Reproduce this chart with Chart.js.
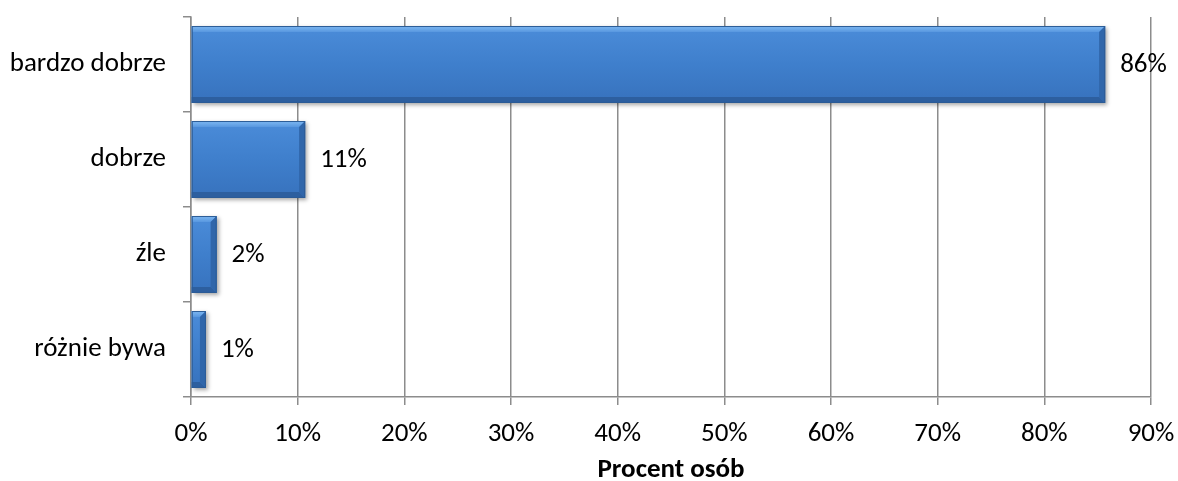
<!DOCTYPE html>
<html>
<head>
<meta charset="utf-8">
<script src="https://cdn.jsdelivr.net/npm/chart.js@4.4.1/dist/chart.umd.min.js"></script>
<style>
  html, body { margin: 0; padding: 0; background: #fff; }
  #wrap { width: 1178px; height: 481px; position: relative; }
</style>
</head>
<body>
<div id="wrap"><canvas id="c" width="1178" height="481"></canvas></div>
<script>
const categories = ['bardzo dobrze', 'dobrze', 'źle', 'różnie bywa'];
const values = [85.7, 10.7, 2.4, 1.4];
const valueLabels = ['86%', '11%', '2%', '1%'];
const xTicks = [0, 10, 20, 30, 40, 50, 60, 70, 80, 90];
const axisTitle = 'Procent osób';

const FONT = 'Carlito, Calibri, Lato, sans-serif';
const GRID = '#8c8c8c';
const FS = 27;

const bevelPlugin = {
  id: 'bevel',
  afterDatasetsDraw(chart) {
    const ctx = chart.ctx;
    const meta = chart.getDatasetMeta(0);
    meta.data.forEach((bar) => {
      const x0 = bar.base, x1 = bar.x;
      const y0 = bar.y - bar.height / 2, y1 = bar.y + bar.height / 2;
      const b = Math.min(6, (x1 - x0) / 2);
      ctx.save();
      const g = ctx.createLinearGradient(0, y0, 0, y1);
      g.addColorStop(0, '#4b8cd9');
      g.addColorStop(0.5, '#3f7fcc');
      g.addColorStop(1, '#3772bd');
      ctx.shadowColor = 'rgba(0,0,0,0.35)';
      ctx.shadowBlur = 4;
      ctx.shadowOffsetX = 2;
      ctx.shadowOffsetY = 2;
      ctx.fillStyle = g;
      ctx.fillRect(x0, y0, x1 - x0, y1 - y0);
      ctx.shadowColor = 'transparent';
      const gt = ctx.createLinearGradient(0, y0, 0, y0 + b);
      gt.addColorStop(0, '#7fbaf3');
      gt.addColorStop(1, '#5897df');
      ctx.fillStyle = gt;
      ctx.beginPath();
      ctx.moveTo(x0, y0); ctx.lineTo(x1, y0); ctx.lineTo(x1 - b, y0 + b); ctx.lineTo(x0, y0 + b);
      ctx.closePath(); ctx.fill();
      ctx.fillStyle = '#2d5f9f';
      ctx.beginPath();
      ctx.moveTo(x0, y1); ctx.lineTo(x1, y1); ctx.lineTo(x1 - b, y1 - b); ctx.lineTo(x0, y1 - b);
      ctx.closePath(); ctx.fill();
      ctx.fillStyle = '#3066aa';
      ctx.beginPath();
      ctx.moveTo(x1, y0); ctx.lineTo(x1, y1); ctx.lineTo(x1 - b, y1 - b); ctx.lineTo(x1 - b, y0 + b);
      ctx.closePath(); ctx.fill();
      ctx.strokeStyle = '#2c5c96';
      ctx.lineWidth = 1;
      ctx.strokeRect(x0 + 0.5, y0 + 0.5, x1 - x0 - 1, y1 - y0 - 1);
      ctx.restore();
    });
  }
};

const labelPlugin = {
  id: 'valueLabels',
  afterDatasetsDraw(chart) {
    const ctx = chart.ctx;
    const meta = chart.getDatasetMeta(0);
    ctx.save();
    ctx.font = FS + 'px ' + FONT;
    ctx.fillStyle = '#000';
    ctx.textAlign = 'left';
    ctx.textBaseline = 'middle';
    meta.data.forEach((bar, i) => {
      ctx.fillText(valueLabels[i], bar.x + 15, bar.y + 1);
    });
    ctx.restore();
  }
};

new Chart(document.getElementById('c'), {
  type: 'bar',
  data: {
    labels: categories,
    datasets: [{
      data: values,
      backgroundColor: '#3f7fcc',
      borderWidth: 0,
      barPercentage: 0.81,
      categoryPercentage: 1
    }]
  },
  options: {
    indexAxis: 'y',
    responsive: false,
    animation: false,
    events: [],
    layout: { padding: { left: 0, right: 27, top: 17, bottom: 0 } },
    plugins: { legend: { display: false }, tooltip: { enabled: false } },
    scales: {
      x: {
        type: 'linear',
        min: 0,
        max: 90,
        afterBuildTicks(scale) { scale.ticks = xTicks.map(v => ({ value: v })); },
        afterFit(scale) { scale.height = 84; scale.paddingLeft = 0; scale.paddingRight = 0; },
        ticks: {
          callback: (v) => v + '%',
          color: '#000',
          font: { family: FONT, size: FS },
          padding: 13,
          maxRotation: 0
        },
        grid: { color: GRID, lineWidth: 1.5, tickLength: 8, drawTicks: true },
        border: { color: GRID, width: 1.5 },
        title: {
          display: true,
          text: axisTitle,
          color: '#000',
          font: { family: FONT, size: 27, weight: 'bold', lineHeight: 0.8 },
          padding: { top: 0, bottom: 0 }
        }
      },
      y: {
        type: 'category',
        afterFit(scale) { scale.width = 191; scale.paddingTop = 0; scale.paddingBottom = 0; },
        ticks: {
          color: '#000',
          font: { family: FONT, size: FS },
          padding: 17
        },
        grid: { offset: true, drawOnChartArea: false, drawTicks: true, tickLength: 8, color: GRID, lineWidth: 1.5 },
        border: { color: GRID, width: 1.5 }
      }
    }
  },
  plugins: [bevelPlugin, labelPlugin]
});
</script>
</body>
</html>
